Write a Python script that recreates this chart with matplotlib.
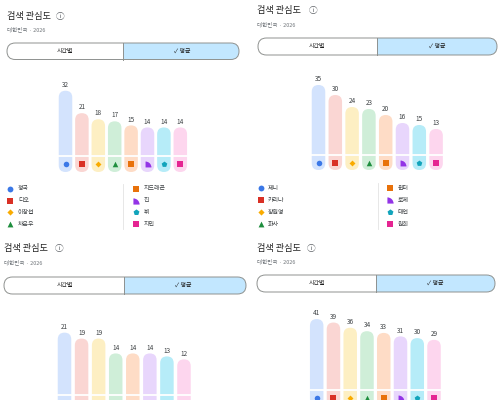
import matplotlib
matplotlib.use('Agg')
import matplotlib.pyplot as plt
from matplotlib.patches import FancyBboxPatch, Rectangle
from matplotlib.path import Path
import numpy as np

plt.rcParams['font.family'] = ['Noto Sans CJK KR', 'DejaVu Sans']

# ---------------- data ----------------
TITLE = '검색 관심도'
SUBTITLE = '대한민국 · 2026'
TAB_LEFT = '시간별'
TAB_RIGHT = '✓ 평균'

names_a = ['정국', '디오', '이창섭', '차은우', '지드래곤', '진', '뷔', '지민']
values_a = [32, 21, 18, 17, 15, 14, 14, 14]

names_b = ['제니', '카리나', '장원영', '화사', '윈터', '로제', '태연', '원희']
values_b = [35, 30, 24, 23, 20, 16, 15, 13]

values_c = [21, 19, 19, 14, 14, 14, 13, 12]
values_d = [41, 39, 36, 34, 33, 31, 30, 29]

# ---------------- styles ----------------
bar_colors = ['#d3e3fd', '#fad6d3', '#fdefc3', '#cfeed8', '#fedcc6',
              '#e8d6fc', '#b6ecf8', '#fdd6ee']
mark_colors = ['#3b78e7', '#d93025', '#f9ab00', '#1e8e3e', '#e8710a',
               '#9334e6', '#12a4bb', '#e52592']
_w = Path.wedge(0, 90)
quarter = Path(_w.vertices - 0.5, _w.codes)
mark_shapes = ['o', 's', 'D', '^', 's', quarter, 'p', 's']
mark_sizes = [16, 13, 9, 16, 13, 18, 18, 13]

W, H = 500, 400
fig = plt.figure(figsize=(5, 4), dpi=100)
fig.patch.set_facecolor('white')

ov = fig.add_axes([0, 0, 1, 1])
ov.set_xlim(0, W)
ov.set_ylim(H, 0)
ov.set_axis_off()
ov.set_zorder(1)
ov.patch.set_alpha(0)


def header(tx, ty, icon_x, sub_y, px0, py0, px1, py1, div_x, lt_x, rt_x):
    ov.text(tx, ty, TITLE, fontsize=6.6, color='#1f1f1f', ha='left', va='center')
    ov.text(icon_x, ty, 'ⓘ', fontsize=6.3, color='#5f6368', ha='center', va='center',
            family=['Noto Sans CJK KR', 'Noto Sans', 'DejaVu Sans'])
    ov.text(tx, sub_y, SUBTITLE, fontsize=4.0, color='#70757a', ha='left', va='center')
    h = py1 - py0
    r = h / 2
    base = FancyBboxPatch((px0, py0), px1 - px0, h,
                          boxstyle=f'round,pad=0,rounding_size={r}',
                          fc='white', ec='none', zorder=1)
    ov.add_patch(base)
    blue = FancyBboxPatch((px0, py0), px1 - px0, h,
                          boxstyle=f'round,pad=0,rounding_size={r}',
                          fc='#c2e7ff', ec='none', zorder=2)
    ov.add_patch(blue)
    clip = Rectangle((div_x, py0 - 2), px1 - div_x + 2, h + 4, transform=ov.transData)
    blue.set_clip_path(clip)
    border = FancyBboxPatch((px0, py0), px1 - px0, h,
                            boxstyle=f'round,pad=0,rounding_size={r}',
                            fc='none', ec='#8e918f', lw=0.7, zorder=3)
    ov.add_patch(border)
    ov.plot([div_x, div_x], [py0, py1], color='#8e918f', lw=0.7, zorder=3)
    cy = (py0 + py1) / 2
    ov.text(lt_x, cy, TAB_LEFT, fontsize=4.3, color='#1f1f1f', ha='center', va='center', zorder=4)
    ov.text(rt_x, cy, TAB_RIGHT, fontsize=4.3, color='#1f1f1f', ha='center', va='center', zorder=4)


def bars(values, c0, spacing, base_px, ppu, icon_px, bar_px=13.5):
    n = len(values)
    top_px = base_px - (max(values) + 10) * ppu
    bot_px = base_px + icon_px
    left_px = c0 - 0.5 * spacing
    ax = fig.add_axes([left_px / W, 1 - bot_px / H, n * spacing / W, (bot_px - top_px) / H])
    ax.set_xlim(-0.5, n - 0.5)
    icon_u = icon_px / ppu
    ax.set_ylim(-icon_u, (base_px - top_px) / ppu)
    ax.set_axis_off()
    ax.patch.set_alpha(0)
    x = np.arange(n)
    heights = np.array(values) + icon_u
    rects = ax.bar(x, heights, bottom=-icon_u, width=bar_px / spacing, color=bar_colors)
    m = spacing / ppu
    for rect, col in zip(rects, bar_colors):
        rx, ry = rect.get_x(), rect.get_y()
        rw, rh = rect.get_width(), rect.get_height()
        rect.remove()
        ax.add_patch(FancyBboxPatch((rx, ry), rw, rh,
                                    boxstyle=f'round,pad=0,rounding_size={rw / 2}',
                                    mutation_aspect=m, fc=col, ec='none', zorder=1))
    ax.axhline(0, color='white', lw=1.3, zorder=2)
    for i, v in enumerate(values):
        ax.scatter([x[i]], [-icon_u / 2], marker=mark_shapes[i], s=mark_sizes[i],
                   c=mark_colors[i], linewidths=0, zorder=3)
        ax.annotate(str(v), (x[i], v), xytext=(0, 4.2), textcoords='offset points',
                    ha='center', va='center', fontsize=4.6, color='#3c4043')
    return ax


def legend(names, rows, m1, t1, m2, t2, div_x):
    for i, nm in enumerate(names):
        col = i // 4
        y = rows[i % 4]
        mx, tx = (m1, t1) if col == 0 else (m2, t2)
        ov.scatter([mx], [y], marker=mark_shapes[i], s=mark_sizes[i] * 1.1,
                   c=mark_colors[i], linewidths=0, zorder=3)
        ov.text(tx, y, nm, fontsize=4.3, color='#3c4043', ha='left', va='center')
    ov.plot([div_x, div_x], [rows[0] - 5, rows[-1] + 5], color='#e3e3e3', lw=0.6)


# top-left
header(7, 16, 60, 29, 7, 43, 239, 59.5, 123, 65, 182)
bars(values_a, 65.5, 16.4, 156, 2.04, 16)
legend(names_a, [189, 201, 212, 224], 10, 18, 136, 144, 123)

# top-right
header(257, 11, 313, 24, 258, 38, 497, 55, 377, 317, 437)
bars(values_b, 318.5, 16.8, 155, 2.0, 15)
legend(names_b, [188, 200, 212, 224], 261, 268, 390, 398, 378)

# bottom-left
header(4, 249, 59, 262, 4, 277, 246, 294, 124, 65, 183)
bars(values_c, 64.5, 17.07, 395, 2.97, 16)

# bottom-right
header(257, 249, 311, 261, 257, 275, 495, 292, 376, 317, 435)
bars(values_d, 316.7, 16.76, 390, 1.73, 16)

fig.savefig('out.png', dpi=100, facecolor='white')
